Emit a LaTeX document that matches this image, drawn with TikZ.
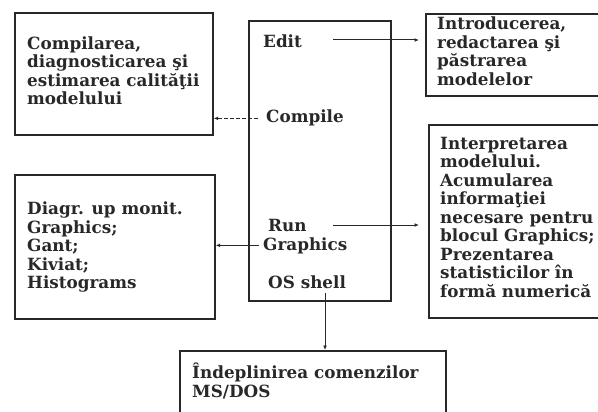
\documentclass[tikz,border=0pt]{standalone}
\usepackage{fontspec}
\setmainfont{DejaVu Serif}
\usetikzlibrary{arrows.meta}
\definecolor{ink}{RGB}{40,40,40}
\begin{document}
\begin{tikzpicture}[x=1pt,y=-1pt,
  frame/.style={draw=ink, line width=1.7pt, anchor=north west, inner sep=0pt},
  txt/.style={anchor=north west, inner sep=0pt, align=left, text=ink, font=\fontsize{16.8}{18.5}\selectfont\bfseries},
  word/.style={anchor=base west, inner sep=0pt, text=ink, font=\fontsize{16.8}{18.5}\selectfont\bfseries},
  link/.style={draw=ink, line width=1pt, -{Latex[length=4.5pt,width=3.8pt]}}]
\useasboundingbox (0,0) rectangle (598,412);
\clip (0,0) rectangle (598,412);
% boxes
\node[frame, minimum width=198pt, minimum height=122pt] (ltbox) at (14,12) {};
\node[frame, minimum width=200pt, minimum height=144pt] (lbbox) at (14,174) {};
\node[frame, minimum width=142pt, minimum height=280pt] (main) at (248,20) {};
\node[frame, minimum width=200pt, minimum height=82pt] (rtbox) at (425,13) {};
\node[frame, minimum width=200pt, minimum height=193pt] (rbbox) at (428,124) {};
\node[frame, minimum width=266pt, minimum height=100pt] (bottom) at (179,350) {};
% texts
\node[txt] (lttext) at (27,36.5) {Compilarea,\\diagnosticarea şi\\estimarea calităţii\\modelului};
\node[txt] (lbtext) at (27,202) {Diagr. up monit.\\Graphics;\\Gant;\\Kiviat;\\Histograms};
\node[txt] (rttext) at (437,17) {Introducerea,\\redactarea şi\\păstrarea\\modelelor};
\node[txt] (rbtext) at (440,137) {Interpretarea\\modelului.\\Acumularea\\informaţiei\\necesare pentru\\blocul Graphics;\\Prezentarea\\statisticilor în\\formă numerică};
\node[txt] (bottext) at (192,363) {Îndeplinirea comenzilor\\MS/DOS};
\node[word] (edit) at (263,48) {Edit};
\node[word] (compile) at (266,123) {Compile};
\node[word] (run) at (268,231) {Run};
\node[word] (graphics) at (263,250) {Graphics};
\node[word] (osshell) at (268,288) {OS shell};
% connectors
\coordinate (editout) at (333,40);
\coordinate (runout) at (333,225);
\coordinate (osout) at (325,293);
\draw[link, shorten >=6pt] (editout) -- (editout -| rtbox.west);
\draw[link, shorten >=9pt] (runout) -- (runout -| rbbox.west);
\draw[link, dash pattern=on 4pt off 2pt, shorten <=8pt] (compile.west) -- (compile.west -| ltbox.east);
\draw[link, shorten <=4pt] (graphics.west) -- (graphics.west -| lbbox.east);
\draw[link] (osout) -- (osout |- bottom.north);
\end{tikzpicture}
\end{document}
